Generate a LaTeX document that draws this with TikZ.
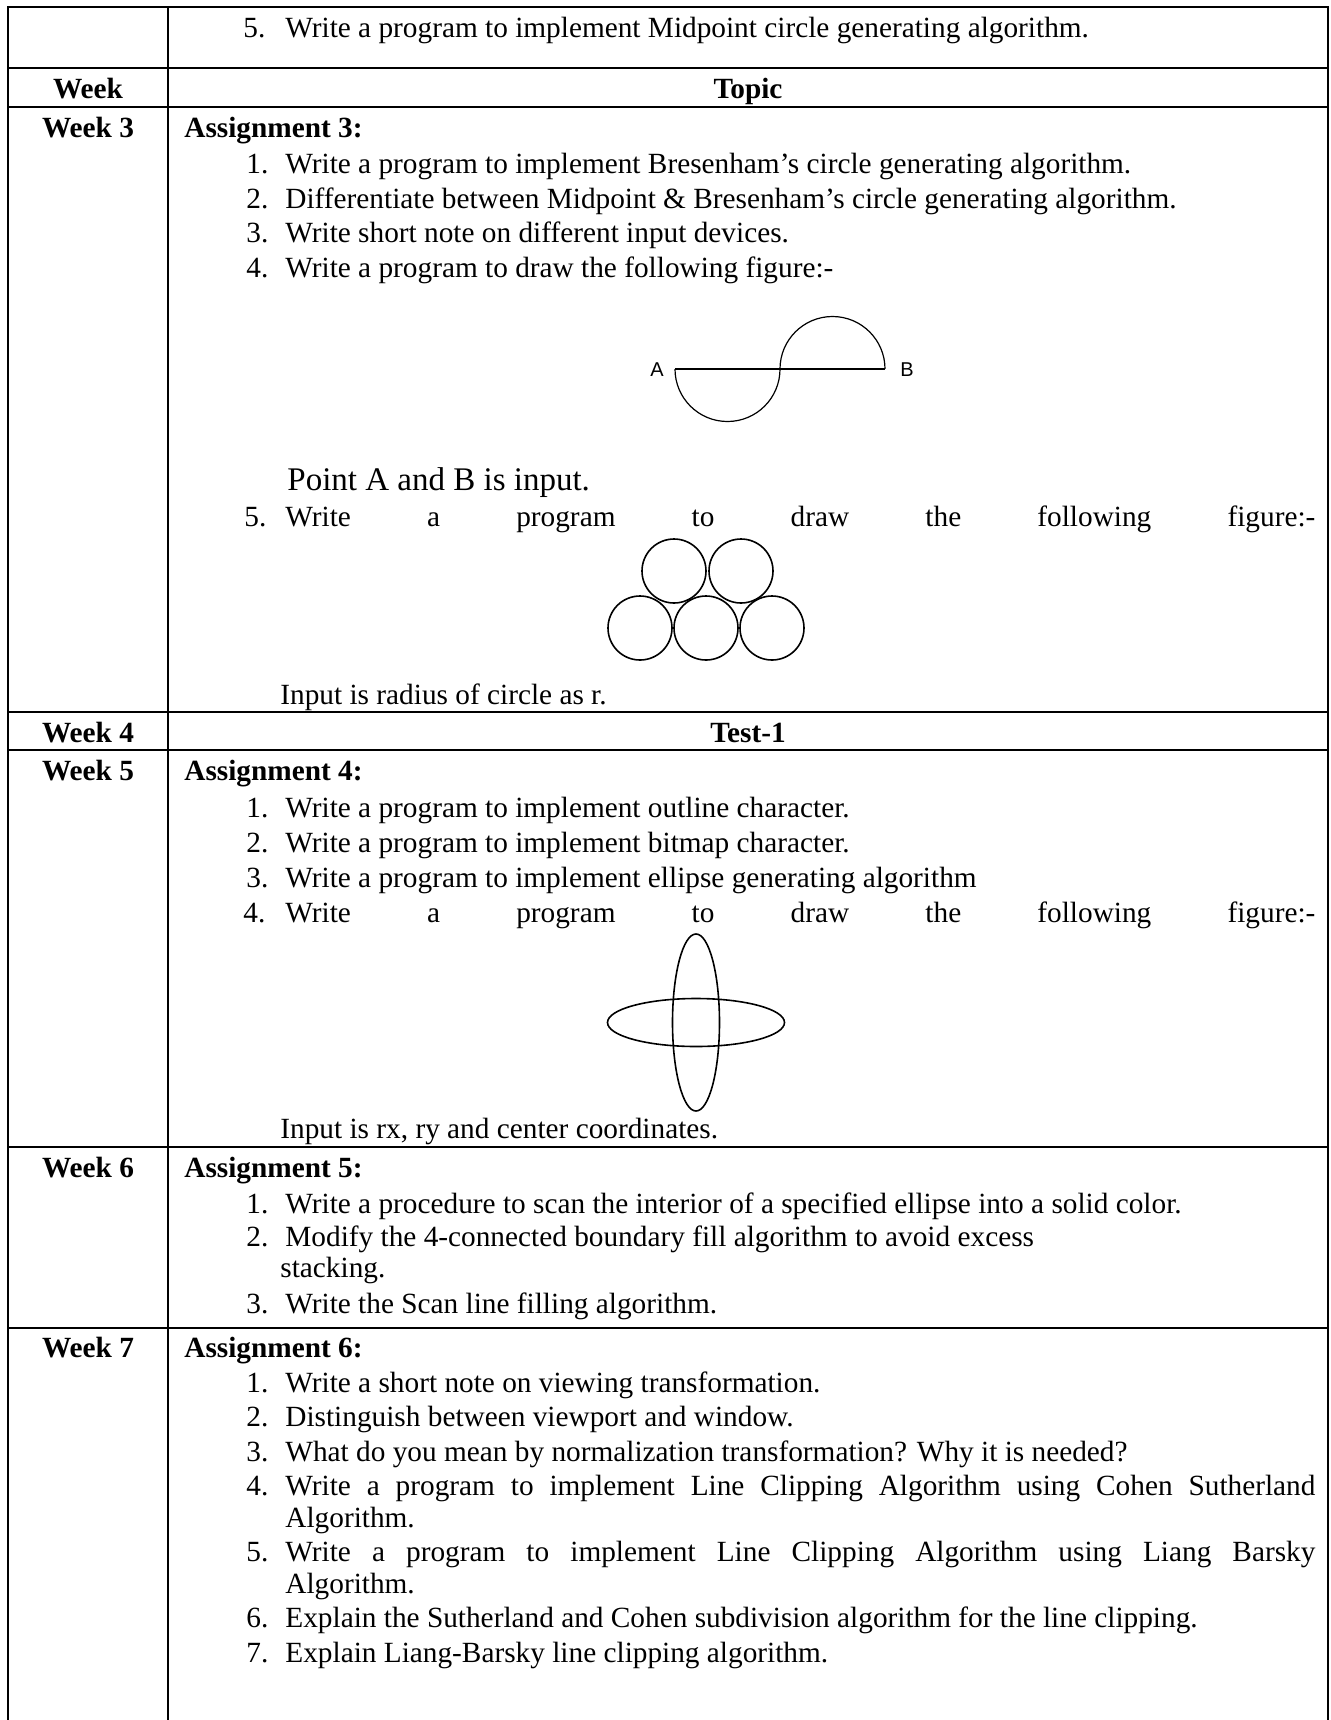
\documentclass[tikz,border=0pt]{standalone}
\usepackage{fontspec}
\setmainfont{Liberation Serif}
\newfontfamily\figfont{Liberation Sans}
\begin{document}
\begin{tikzpicture}[x=0.5pt,y=-0.5pt,
  txt/.style={anchor=base west, inner sep=0pt, font=\fontsize{14.65}{17}\selectfont},
  btxt/.style={anchor=base west, inner sep=0pt, font=\fontsize{14.65}{17}\selectfont\bfseries},
  wk/.style={anchor=base, inner sep=0pt, font=\fontsize{14.65}{17}\selectfont\bfseries},
  big/.style={anchor=base west, inner sep=0pt, font=\fontsize{16.5}{19}\selectfont},
  lbl/.style={inner sep=0pt, font=\figfont\fontsize{10}{12}\selectfont},
  rule/.style={line width=1pt},
  thin/.style={line width=0.6pt},
  figline/.style={line width=0.8pt}]
\useasboundingbox (0,0) rectangle (1330,1720);
\fill[white] (0,0) rectangle (1330,1720);
% table rules
\draw[rule] (8,1720) -- (8,7) -- (1328,7) -- (1328,1720);
\draw[rule] (168,7) -- (168,1720);
\foreach \yy in {68,107,712,750,1147,1328} \draw[rule] (8,\yy) -- (1328,\yy);
% row 1
\node[txt] (r1n) at (243,37) {5.};
\node[txt] (r1t) at (285,37) {Write a program to implement Midpoint circle generating algorithm.};
% header
\node[wk] (hw) at (88,98) {Week};
\node[wk] (ht) at (748,98) {Topic};
% week 3
\node[wk] (w3) at (88,137) {Week 3};
\node[btxt] (a3) at (184,137) {Assignment 3:};
\node[txt] (a3n1) at (246,173) {1.};
\node[txt] (a3t1) at (285,173) {Write a program to implement Bresenham’s circle generating algorithm.};
\node[txt] (a3n2) at (246,208) {2.};
\node[txt] (a3t2) at (285,208) {Differentiate between Midpoint \& Bresenham’s circle generating algorithm.};
\node[txt] (a3n3) at (246,242) {3.};
\node[txt] (a3t3) at (285,242) {Write short note on different input devices.};
\node[txt] (a3n4) at (246,277) {4.};
\node[txt] (a3t4) at (285,277) {Write a program to draw the following figure:-};
% figure A-B
\draw[thin] (675,369) -- (885,369);
\draw[thin] (675,369) arc[start angle=180,end angle=0,radius=52.5];
\draw[thin] (780,369) arc[start angle=180,end angle=360,radius=52.5];
\node[lbl] (la) at (657,370) {A};
\node[lbl] (lb) at (907,370) {B};
\node[big] (pab) at (287,490) {Point A and B is input.};
\node[txt] (a3n5) at (244,526) {5.};
\node[txt] (a3t5) at (285,526) {\makebox[515pt][s]{Write a program to draw the following figure:-}};
% circles
\foreach \cx/\cy in {674/571,741/571,640/628,706/628,772/628}
  \draw[figline] (\cx,\cy) circle[radius=32];
\node[txt] (inr) at (280,704) {Input is radius of circle as r.};
% week 4
\node[wk] (w4) at (88,742) {Week 4};
\node[wk] (t1) at (748,742) {Test-1};
% week 5
\node[wk] (w5) at (88,780) {Week 5};
\node[btxt] (a4) at (184,780) {Assignment 4:};
\node[txt] (a4n1) at (246,817) {1.};
\node[txt] (a4t1) at (285,817) {Write a program to implement outline character.};
\node[txt] (a4n2) at (246,852) {2.};
\node[txt] (a4t2) at (285,852) {Write a program to implement bitmap character.};
\node[txt] (a4n3) at (246,887) {3.};
\node[txt] (a4t3) at (285,887) {Write a program to implement ellipse generating algorithm};
\node[txt] (a4n4) at (243,922) {4.};
\node[txt] (a4t4) at (285,922) {\makebox[515pt][s]{Write a program to draw the following figure:-}};
\draw[figline] (696,1022.5) ellipse[x radius=23.5,y radius=88.5];
\draw[figline] (696,1022.5) ellipse[x radius=88.5,y radius=24];
\node[txt] (inrx) at (280,1138) {Input is rx, ry and center coordinates.};
% week 6
\node[wk] (w6) at (88,1177) {Week 6};
\node[btxt] (a5) at (184,1177) {Assignment 5:};
\node[txt] (a5n1) at (246,1213) {1.};
\node[txt] (a5t1) at (285,1213) {Write a procedure to scan the interior of a specified ellipse into a solid color.};
\node[txt] (a5n2) at (246,1246) {2.};
\node[txt] (a5t2) at (285,1246) {Modify the 4-connected boundary fill algorithm to avoid excess};
\node[txt] (a5t2b) at (280,1277) {stacking.};
\node[txt] (a5n3) at (246,1313) {3.};
\node[txt] (a5t3) at (285,1313) {Write the Scan line filling algorithm.};
% week 7
\node[wk] (w7) at (88,1357) {Week 7};
\node[btxt] (a6) at (184,1357) {Assignment 6:};
\node[txt] (a6n1) at (246,1392) {1.};
\node[txt] (a6t1) at (285,1392) {Write a short note on viewing transformation.};
\node[txt] (a6n2) at (246,1426) {2.};
\node[txt] (a6t2) at (285,1426) {Distinguish between viewport and window.};
\node[txt] (a6n3) at (246,1461) {3.};
\node[txt] (a6t3) at (285,1461) {What do you mean by normalization transformation? Why it is needed?};
\node[txt] (a6n4) at (246,1495) {4.};
\node[txt] (a6t4) at (285,1495) {\makebox[515pt][s]{Write a program to implement Line Clipping Algorithm using Cohen Sutherland}};
\node[txt] (a6t4b) at (285,1527) {Algorithm.};
\node[txt] (a6n5) at (246,1561) {5.};
\node[txt] (a6t5) at (285,1561) {\makebox[515pt][s]{Write a program to implement Line Clipping Algorithm using Liang Barsky}};
\node[txt] (a6t5b) at (285,1593) {Algorithm.};
\node[txt] (a6n6) at (246,1627) {6.};
\node[txt] (a6t6) at (285,1627) {Explain the Sutherland and Cohen subdivision algorithm for the line clipping.};
\node[txt] (a6n7) at (246,1662) {7.};
\node[txt] (a6t7) at (285,1662) {Explain Liang-Barsky line clipping algorithm.};
\end{tikzpicture}
\end{document}
